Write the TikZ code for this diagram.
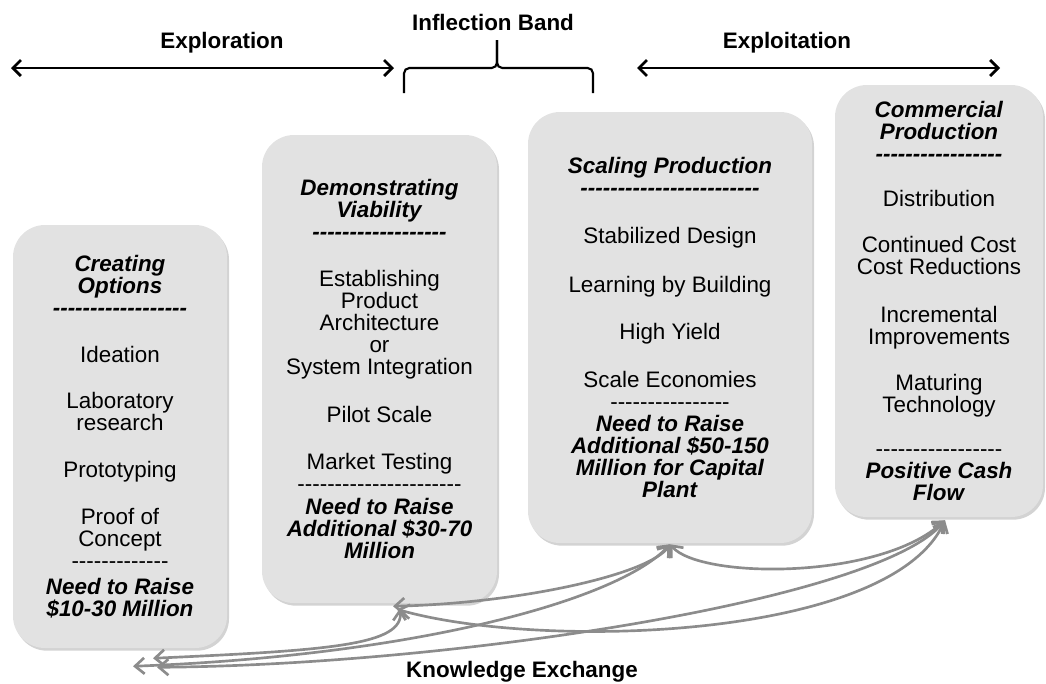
\documentclass[tikz,border=0pt]{standalone}
\usepackage{fontspec}
\setmainfont{Liberation Sans}
\usetikzlibrary{arrows.meta,shadows}

\definecolor{stagegray}{RGB}{226,226,226}
\definecolor{linkgray}{RGB}{140,140,140}

\newcommand\dashrow[1]{\foreach \n in {1,...,#1}{-\kern0pt}}
\newcommand\hd[1]{\textbf{\textit{#1}}}

\tikzset{
  stage/.style={fill=stagegray, rounded corners=24pt, align=center, inner sep=0pt,
    drop shadow={shadow xshift=1.5pt, shadow yshift=-2pt, opacity=.35},
    font=\fontsize{16.8}{16.5}\selectfont},
  phase/.style={font=\fontsize{16.8}{20}\selectfont\bfseries},
  span/.style={line width=2.1pt,
    {Straight Barb[length=6pt,width=12pt]}-{Straight Barb[length=6pt,width=12pt]}},
  link/.style={linkgray, line width=2pt,
    {Straight Barb[length=7pt,width=12pt]}-{Straight Barb[length=7pt,width=12pt]}},
}

\begin{document}
\begin{tikzpicture}[x=0.75pt,y=-0.75pt]
   \useasboundingbox (0,0) rectangle (1046,683);

   % headings and spans
   \node[phase] (inflection) at (493,22) {Inflection Band};
   \node[phase] (exploration) at (222,43) {Exploration};
   \node[phase] (exploitation) at (787,43) {Exploitation};
   \coordinate (explL) at (11,68);
   \coordinate (explR) at (394,68);
   \coordinate (exptL) at (637,68);
   \coordinate (exptR) at (1000,68);
   \draw[span] (explL) -- (explR);
   \draw[span] (exptL) -- (exptR);
   \draw[line width=1.6pt, rounded corners=4pt] (404,93) |- (497,68) -- (497,40);
   \draw[line width=1.6pt, rounded corners=4pt] (593,93) |- (497,68) -- (497,40);

   % stages
   \node[stage, minimum width=160.5pt, minimum height=317.25pt] (creating) at (120,436.5)
     {\hd{Creating}\\ \hd{Options}\\ \hd{\dashrow{18}}\\[18.5pt]
      Ideation\\[18.5pt]
      Laboratory\\ research\\[18.5pt]
      Prototyping\\[18.5pt]
      Proof of\\ Concept\\[0pt]
      \dashrow{13}\\[3pt]
      \hd{Need to Raise}\\ \hd{\$10-30 Million}};
   \node[stage, minimum width=176.25pt, minimum height=351pt] (demo) at (379.5,369)
     {\hd{Demonstrating}\\ \hd{Viability}\\ \hd{\dashrow{18}}\\[19pt]
      Establishing\\ Product\\ Architecture\\ or\\ System Integration\\[19pt]
      Pilot Scale\\[19pt]
      Market Testing\\[0pt]
      \dashrow{22}\\[1pt]
      \hd{Need to Raise}\\ \hd{Additional \$30-70}\\ \hd{Million}};
   \node[stage, minimum width=213pt, minimum height=323.25pt] (scaling) at (670,327.5)
     {\hd{Scaling Production}\\ \hd{\dashrow{24}}\\[19.5pt]
      Stabilized Design\\[20pt]
      Learning by Building\\[19pt]
      High Yield\\[19pt]
      Scale Economies\\[0pt]
      \dashrow{16}\\[0pt]
      \hd{Need to Raise}\\ \hd{Additional \$50-150}\\ \hd{Million for Capital}\\ \hd{Plant}};
   \node[stage, minimum width=156pt, minimum height=324pt] (commercial) at (939,301)
     {\hd{Commercial}\\ \hd{Production}\\ \hd{\dashrow{17}}\\[17.5pt]
      Distribution\\[18pt]
      Continued Cost\\ Cost Reductions\\[19pt]
      Incremental\\ Improvements\\[18pt]
      Maturing\\ Technology\\[17pt]
      \dashrow{17}\\[0pt]
      \hd{Positive Cash}\\ \hd{Flow}};

   % knowledge exchange
   \draw[link] ([shift={(0,1)}]scaling.south) .. controls +(-20,30) and +(127,-3) .. ([shift={(13.5,3)}]demo.south);
   \draw[link] ([shift={(0,1)}]scaling.south) .. controls +(-50,55) and +(287,-11) .. ([shift={(13,18)}]creating.south);
   \draw[link] ([shift={(0,1)}]scaling.south) .. controls +(30,35) and +(-65,60) .. ([shift={(6,3)}]commercial.south);
   \draw[link] ([shift={(6,3)}]commercial.south) .. controls +(-65,80) and +(293,-2) .. ([shift={(37,19)}]creating.south);
   \draw[link] ([shift={(6,3)}]commercial.south) .. controls +(-55,120) and +(143,41) .. ([shift={(17.5,6)}]demo.south);
   \draw[link] ([shift={(20.5,5)}]demo.south) .. controls +(4,37) and +(177,-8) .. ([shift={(33,10)}]creating.south);
   \node[phase] (knowledge) at (522,672) {Knowledge Exchange};
\end{tikzpicture}
\end{document}
